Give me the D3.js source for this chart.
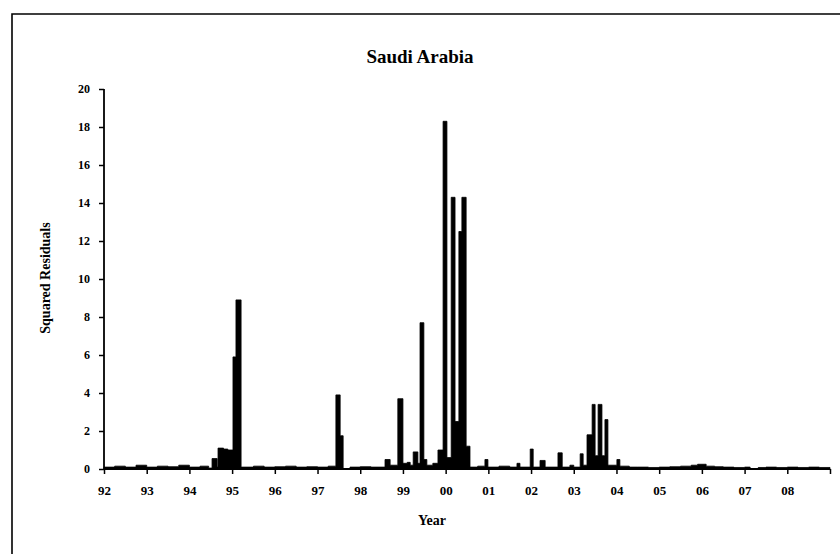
<!DOCTYPE html>
<html>
<head>
<meta charset="utf-8">
<script src="https://cdn.jsdelivr.net/npm/d3@7"></script>
<style>
  body { margin: 0; background: #fff; }
  svg { display: block; }
  text { font-family: "Liberation Serif", "Times New Roman", serif; fill: #000; }
</style>
</head>
<body>
<div id="chart"></div>
<script>
// sample dates (decimal years) and squared residuals
const sampleYears = [
  1992.00, 1992.25, 1992.50, 1992.75, 1993.00, 1993.25, 1993.50, 1993.75,
  1994.00, 1994.25, 1994.45, 1994.53, 1994.65, 1994.67, 1994.80, 1994.90,
  1995.02, 1995.09, 1995.21, 1995.50, 1995.75, 1996.00, 1996.25, 1996.50,
  1996.75, 1997.00, 1997.25, 1997.43, 1997.53, 1997.60, 1997.76, 1998.00,
  1998.25, 1998.58, 1998.70, 1998.88, 1999.00, 1999.10, 1999.17, 1999.24,
  1999.35, 1999.40, 1999.49, 1999.56, 1999.70, 1999.82, 1999.94, 2000.03,
  2000.13, 2000.22, 2000.31, 2000.38, 2000.48, 2000.57, 2000.75, 2000.92,
  2000.99, 2001.25, 2001.50, 2001.67, 2001.74, 2001.98, 2002.05, 2002.21,
  2002.33, 2002.63, 2002.73, 2002.91, 2003.00, 2003.15, 2003.22, 2003.31,
  2003.43, 2003.50, 2003.57, 2003.66, 2003.73, 2003.80, 2004.01, 2004.08,
  2004.30, 2004.50, 2004.75, 2005.00, 2005.25, 2005.50, 2005.75, 2005.90,
  2006.10, 2006.30, 2006.50, 2006.75, 2007.00, 2007.13, 2007.32, 2007.50,
  2007.75, 2008.00, 2008.25, 2008.50, 2008.75, 2009.00
];
const sqResiduals = [
  0.10, 0.15, 0.10, 0.20, 0.10, 0.15, 0.12, 0.20,
  0.10, 0.15, 0.05, 0.55, 0.10, 1.10, 1.05, 1.00,
  5.90, 8.90, 0.10, 0.15, 0.10, 0.12, 0.15, 0.10,
  0.12, 0.10, 0.15, 3.90, 1.75, 0.00, 0.10, 0.12,
  0.10, 0.50, 0.20, 3.70, 0.30, 0.35, 0.20, 0.90,
  0.30, 7.70, 0.50, 0.20, 0.30, 1.00, 18.30, 0.60,
  14.30, 2.50, 12.50, 14.30, 1.20, 0.10, 0.15, 0.50,
  0.10, 0.15, 0.10, 0.30, 0.10, 1.05, 0.10, 0.45,
  0.10, 0.85, 0.10, 0.20, 0.10, 0.80, 0.20, 1.80,
  3.40, 0.70, 3.40, 0.70, 2.60, 0.20, 0.50, 0.15,
  0.10, 0.10, 0.08, 0.10, 0.12, 0.15, 0.20, 0.25,
  0.15, 0.12, 0.10, 0.08, 0.10, 0.00, 0.08, 0.10,
  0.08, 0.10, 0.08, 0.10, 0.08, 0.08
];
const yearTicks = d3.range(1992, 2010);
const residTicks = [0, 2, 4, 6, 8, 10, 12, 14, 16, 18, 20];

const svgWidth = 840;
const svgHeight = 554;

const svg = d3.select("#chart")
  .append("svg")
    .attr("width", svgWidth)
    .attr("height", svgHeight);

// outer frame (only top and left edges are in view)
svg.append("path")
  .attr("d", "M12,554 L12,14 L840,14")
  .attr("fill", "none")
  .attr("stroke", "#000")
  .attr("stroke-width", 1.6);

const x = d3.scaleLinear().domain([1992, 2009]).range([104, 830]);
const y = d3.scaleLinear().domain([0, 20]).range([469, 89]);

const points = sampleYears.map((yr, i) => ({ yr: yr, v: sqResiduals[i] }));

// residuals drawn as a filled step area
const area = d3.area()
  .curve(d3.curveStepAfter)
  .x(d => x(d.yr))
  .y0(y(0))
  .y1(d => y(d.v));

svg.append("path")
  .datum(points)
  .attr("d", area)
  .attr("fill", "#000")
  .attr("stroke", "#000")
  .attr("stroke-width", 0.8);

// x axis
const xAxis = svg.append("g")
  .attr("transform", "translate(0," + y(0) + ")")
  .call(d3.axisBottom(x)
    .tickValues(yearTicks)
    .tickSize(5)
    .tickPadding(12)
    .tickFormat(d => d === 2009 ? "" : String(d % 100).padStart(2, "0")));
xAxis.select(".domain").attr("stroke", "#000").attr("stroke-width", 1.8)
  .attr("d", "M" + x(1992) + ",0H" + x(2009));
xAxis.selectAll(".tick line").attr("stroke-width", 1.5);
xAxis.selectAll("text")
  .style("font-family", "'Liberation Serif', serif")
  .style("font-size", "13px")
  .style("font-weight", "bold");

// y axis
const yAxis = svg.append("g")
  .attr("transform", "translate(" + x(1992) + ",0)")
  .call(d3.axisLeft(y)
    .tickValues(residTicks)
    .tickSize(5)
    .tickPadding(9));
yAxis.select(".domain").attr("stroke", "#000").attr("stroke-width", 1.8)
  .attr("d", "M0," + y(0) + "V" + y(20));
yAxis.selectAll(".tick line").attr("stroke-width", 1.5);
yAxis.selectAll("text")
  .style("font-family", "'Liberation Serif', serif")
  .style("font-size", "12px")
  .style("font-weight", "bold");

// title and axis labels
svg.append("text")
  .attr("x", 420)
  .attr("y", 63)
  .attr("text-anchor", "middle")
  .style("font-size", "19px")
  .style("font-weight", "bold")
  .text("Saudi Arabia");

svg.append("text")
  .attr("x", 432)
  .attr("y", 525)
  .attr("text-anchor", "middle")
  .style("font-size", "14px")
  .style("font-weight", "bold")
  .text("Year");

svg.append("text")
  .attr("transform", "translate(50,278) rotate(-90)")
  .attr("text-anchor", "middle")
  .style("font-size", "14px")
  .style("font-weight", "bold")
  .text("Squared Residuals");
</script>
</body>
</html>
